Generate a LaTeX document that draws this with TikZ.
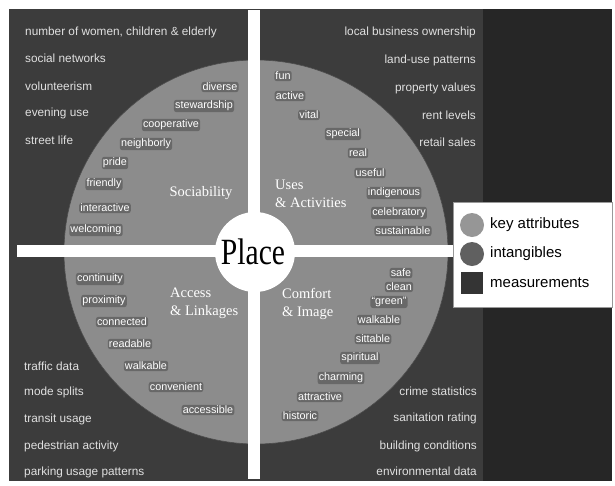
\documentclass[tikz,border=0pt]{standalone}
\usepackage{fontspec}
\setmainfont{Liberation Serif}
\setsansfont{Liberation Sans}
\definecolor{bgdark}{HTML}{3C3C3C}
\definecolor{bgdarker}{HTML}{262626}
\definecolor{circ}{HTML}{8C8C8C}
\definecolor{halo}{HTML}{686868}
\definecolor{keyc}{HTML}{969696}
\definecolor{intc}{HTML}{606060}
\definecolor{measc}{HTML}{343434}
\begin{document}
\begin{tikzpicture}[x=1pt,y=-1pt,
  meas/.style={font=\sffamily\fontsize{11.8}{13}\selectfont, text=white!88!black, inner sep=0pt},
  measL/.style={meas, anchor=west},
  measR/.style={meas, anchor=east},
  word/.style={font=\sffamily\fontsize{10.8}{12}\selectfont, text=white, fill=halo, rounded corners=2.5pt, inner sep=1.2pt},
  cattitle/.style={font=\rmfamily\fontsize{14.5}{18}\selectfont, text=white, align=left, inner sep=0pt, anchor=west},
  legtext/.style={font=\sffamily\fontsize{15}{16}\selectfont, text=black, anchor=west, inner sep=0pt}]
\useasboundingbox (0,0) rectangle (615,485);
\fill[white] (0,0) rectangle (615,485);
% backgrounds
\fill[bgdark] (9,9) rectangle (483,481);
\fill[bgdarker] (483,9) rectangle (612,481);
% big circle
\fill[circ, draw=black!70, line width=0.6pt] (256,252) circle[radius=192];
% cross
\fill[white] (248,10) rectangle (260,479);
\fill[white] (17,245) rectangle (455,257);
% place circle
\fill[white] (255,252) circle[radius=40];
\node[font=\rmfamily\fontsize{37}{37}\selectfont, inner sep=0pt] (place) at (253,252) {\scalebox{0.8}[1]{Place}};

% measurements top-left
\node[measL] (m1) at (25,32) {number of women, children \& elderly};
\node[measL] (m2) at (25,58) {social networks};
\node[measL] (m3) at (25,86) {volunteerism};
\node[measL] (m4) at (25,113) {evening use};
\node[measL] (m5) at (25,140) {street life};
% top-right
\node[measR] (m6) at (476,32) {local business ownership};
\node[measR] (m7) at (476,60) {land-use patterns};
\node[measR] (m8) at (476,88) {property values};
\node[measR] (m9) at (476,115) {rent levels};
\node[measR] (m10) at (476,142) {retail sales};
% bottom-left
\node[measL] (m11) at (24,366) {traffic data};
\node[measL] (m12) at (24,392) {mode splits};
\node[measL] (m13) at (24,419) {transit usage};
\node[measL] (m14) at (24,446) {pedestrian activity};
\node[measL] (m15) at (24,472) {parking usage patterns};
% bottom-right
\node[measR] (m16) at (477,391) {crime statistics};
\node[measR] (m17) at (477,418) {sanitation rating};
\node[measR] (m18) at (477,446) {building conditions};
\node[measR] (m19) at (477,471) {environmental data};

% Sociability
\node[word] (s1) at (220,87) {diverse};
\node[word] (s2) at (204,106) {stewardship};
\node[word] (s3) at (171,125) {cooperative};
\node[word] (s4) at (146,144) {neighborly};
\node[word] (s5) at (115,163) {pride};
\node[word] (s6) at (104,184) {friendly};
\node[word] (s7) at (105,208) {interactive};
\node[word] (s8) at (96,230) {welcoming};
\node[cattitle, anchor=center] (soc) at (201,193) {Sociability};

% Uses & Activities
\node[word] (u1) at (283,76) {fun};
\node[word] (u2) at (290,96) {active};
\node[word] (u3) at (309,115) {vital};
\node[word] (u4) at (343,134) {special};
\node[word] (u5) at (358,153) {real};
\node[word] (u6) at (370,173) {useful};
\node[word] (u7) at (394,193) {indigenous};
\node[word] (u8) at (399,213) {celebratory};
\node[word] (u9) at (403,231) {sustainable};
\node[cattitle] (uses) at (275,194) {Uses\\\& Activities};

% Comfort & Image
\node[word] (c1) at (401,273) {safe};
\node[word] (c2) at (399,287) {clean};
\node[word] (c3) at (389,302) {``green''};
\node[word] (c4) at (379,320) {walkable};
\node[word] (c5) at (373,339) {sittable};
\node[word] (c6) at (360,358) {spiritual};
\node[word] (c7) at (341,378) {charming};
\node[word] (c8) at (320,397) {attractive};
\node[word] (c9) at (300,416) {historic};
\node[cattitle] (comf) at (282,304) {Comfort\\\& Image};

% Access & Linkages
\node[word] (a1) at (100,279) {continuity};
\node[word] (a2) at (104,301) {proximity};
\node[word] (a3) at (122,322) {connected};
\node[word] (a4) at (130,344) {readable};
\node[word] (a5) at (146,366) {walkable};
\node[word] (a6) at (176,387) {convenient};
\node[word] (a7) at (208,410) {accessible};
\node[cattitle] (acc) at (170,303) {Access\\\& Linkages};

% legend
\fill[white, draw=black!40, line width=0.6pt] (453,202) rectangle (612,307);
\fill[keyc] (472,225) circle[radius=12];
\fill[intc] (472,254) circle[radius=12];
\fill[measc] (461,272) rectangle (483,294);
\node[legtext] (l1) at (490,225) {key attributes};
\node[legtext] (l2) at (490,254) {intangibles};
\node[legtext] (l3) at (490,283) {measurements};
\end{tikzpicture}
\end{document}
